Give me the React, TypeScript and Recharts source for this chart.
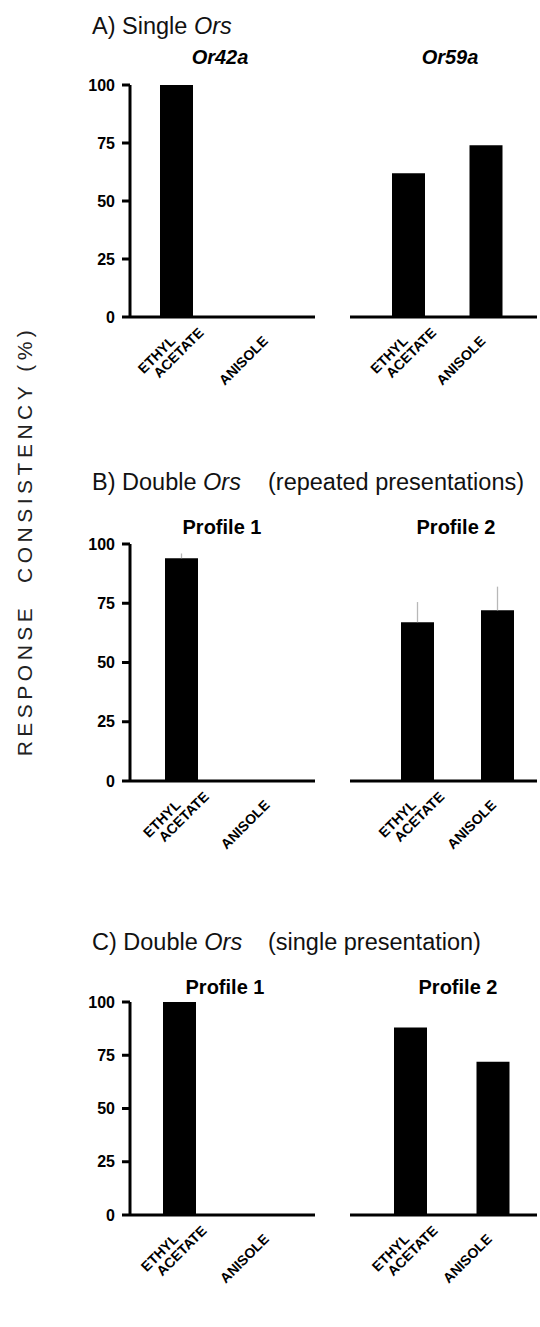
import React from 'react';
import { BarChart, Bar, XAxis, YAxis, ErrorBar } from 'recharts';

const categories = ['ETHYL ACETATE', 'ANISOLE'];
const yTicks = [0, 25, 50, 75, 100];

const singleOr42a = [100, 0];
const singleOr59a = [62, 74];
const repeatedProfile1 = [94, 0];
const repeatedProfile1Err = [2, 0];
const repeatedProfile2 = [67, 72];
const repeatedProfile2Err = [8.5, 10];
const onceProfile1 = [100, 0];
const onceProfile2 = [88, 72];

const FONT = '"Liberation Sans", Arial, Helvetica, sans-serif';

function rows(values: number[], errs?: number[]) {
  return categories.map((c, i) => ({
    name: c,
    value: values[i],
    err: [0, errs ? errs[i] : 0],
  }));
}

const XTick = (props: any) => {
  const { x, y, payload } = props;
  const words = String(payload.value).split(' ');
  const common = {
    fontFamily: FONT,
    fontWeight: 'bold' as const,
    fontSize: 14,
    fill: '#000',
    textAnchor: 'end' as const,
  };
  return (
    <g transform={`translate(${x},${y + 23}) rotate(-45)`}>
      <text x={0} y={0} {...common}>{words[0]}</text>
      {words[1] ? (
        <text x={26} y={14} {...common}>{words[1]}</text>
      ) : null}
    </g>
  );
};

type SubProps = {
  left: number;
  width: number;
  plotTop: number;
  plotBottom: number;
  values: number[];
  errs?: number[];
  showY: boolean;
  padL: number;
  padR: number;
  mLeft: number;
  mRight: number;
};

function SubChart(p: SubProps) {
  const mt = 10;
  const xh = 90;
  const h = mt + (p.plotBottom - p.plotTop) + xh;
  const data = rows(p.values, p.errs);
  return (
    <div style={{ position: 'absolute', left: p.left, top: p.plotTop - mt, width: p.width, height: h }}>
      <BarChart
        width={p.width}
        height={h}
        data={data}
        margin={{ top: mt, right: p.mRight, left: p.mLeft, bottom: 0 }}
        barSize={33}
      >
        <XAxis
          dataKey="name"
          interval={0}
          tickLine={false}
          tickSize={0}
          height={xh}
          axisLine={{ stroke: '#000', strokeWidth: 3 }}
          tick={<XTick />}
          padding={{ left: p.padL, right: p.padR }}
        />
        {p.showY ? (
          <YAxis
            type="number"
            domain={[0, 100]}
            ticks={yTicks}
            interval={0}
            width={130}
            tickSize={8}
            tickMargin={7}
            axisLine={{ stroke: '#000', strokeWidth: 3 }}
            tickLine={{ stroke: '#000', strokeWidth: 3 }}
            tick={{ fontFamily: FONT, fontWeight: 'bold', fontSize: 16, fill: '#000' }}
          />
        ) : (
          <YAxis hide type="number" domain={[0, 100]} />
        )}
        <Bar dataKey="value" fill="#000" isAnimationActive={false}>
          {p.errs ? (
            <ErrorBar dataKey="err" width={0} stroke="#b8b8b8" strokeWidth={1.3} direction="y" />
          ) : null}
        </Bar>
      </BarChart>
    </div>
  );
}

type PanelProps = {
  plotTop: number;
  plotBottom: number;
  left: number[];
  right: number[];
  leftErr?: number[];
  rightErr?: number[];
  padLeftL: number;
  padRightL: number;
  padRightR: number;
};

function Panel(p: PanelProps) {
  return (
    <>
      <SubChart
        left={0}
        width={320}
        plotTop={p.plotTop}
        plotBottom={p.plotBottom}
        values={p.left}
        errs={p.leftErr}
        showY
        padL={p.padLeftL}
        padR={0}
        mLeft={0}
        mRight={5}
      />
      <SubChart
        left={340}
        width={200}
        plotTop={p.plotTop}
        plotBottom={p.plotBottom}
        values={p.right}
        errs={p.rightErr}
        showY={false}
        padL={p.padRightL}
        padR={p.padRightR}
        mLeft={10}
        mRight={3}
      />
    </>
  );
}

function Texts() {
  const t = { fontFamily: FONT, fontSize: 23.5, fill: '#111' };
  const s = { fontFamily: FONT, fontSize: 20, fontWeight: 'bold' as const, fill: '#000', textAnchor: 'middle' as const };
  return (
    <svg width={540} height={1327} style={{ position: 'absolute', left: 0, top: 0, pointerEvents: 'none' }}>
      <text x={92} y={34} {...t}>
        A) Single <tspan fontStyle="italic">Ors</tspan>
      </text>
      <text x={220} y={64} {...s} fontStyle="italic">Or42a</text>
      <text x={450} y={64} {...s} fontStyle="italic">Or59a</text>

      <text x={92} y={490} {...t}>
        B) Double <tspan fontStyle="italic">Ors</tspan>
        <tspan x={268}>(repeated presentations)</tspan>
      </text>
      <text x={222} y={534} {...s}>Profile 1</text>
      <text x={456} y={534} {...s}>Profile 2</text>

      <text x={92} y={950} {...t}>
        C) Double <tspan fontStyle="italic">Ors</tspan>
        <tspan x={268}>(single presentation)</tspan>
      </text>
      <text x={225} y={994} {...s}>Profile 1</text>
      <text x={458} y={994} {...s}>Profile 2</text>

      <text
        transform="translate(32,541) rotate(-90)"
        x={0}
        y={0}
        textAnchor="middle"
        fontFamily={FONT}
        fontSize={21}
        letterSpacing={4.5}
        fill="#222"
        style={{ whiteSpace: 'pre' }}
      >
        {'RESPONSE  CONSISTENCY (%)'}
      </text>
    </svg>
  );
}

export default function App() {
  return (
    <div style={{ position: 'absolute', left: 0, top: 0, width: 540, height: 1327, background: '#fff' }}>
      <Texts />
      <Panel
        plotTop={85}
        plotBottom={317}
        left={singleOr42a}
        right={singleOr59a}
        padLeftL={0}
        padRightL={20}
        padRightR={12}
      />
      <Panel
        plotTop={544}
        plotBottom={781}
        left={repeatedProfile1}
        right={repeatedProfile2}
        leftErr={repeatedProfile1Err}
        rightErr={repeatedProfile2Err}
        padLeftL={7}
        padRightL={27}
        padRightR={0}
      />
      <Panel
        plotTop={1002}
        plotBottom={1215}
        left={onceProfile1}
        right={onceProfile2}
        padLeftL={4}
        padRightL={19}
        padRightR={3}
      />
    </div>
  );
}
